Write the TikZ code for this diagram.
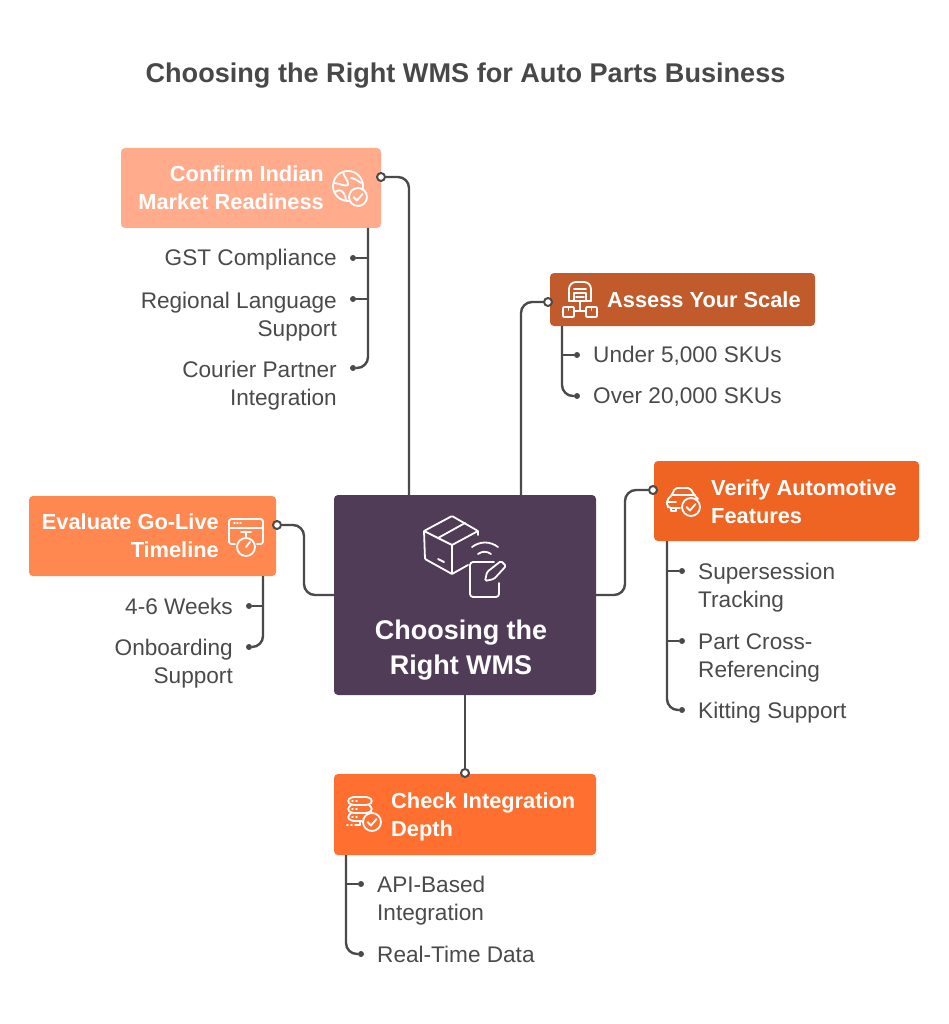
\documentclass[tikz,border=0pt]{standalone}
\usepackage{fontspec}
\setmainfont{Liberation Sans}
\usepackage{tikz}
\definecolor{inkgrey}{HTML}{4A4A4A}
\definecolor{titlegrey}{HTML}{484848}
\definecolor{hubplum}{HTML}{503C56}
\definecolor{confirmpeach}{HTML}{FFAB8C}
\definecolor{assessrust}{HTML}{C15B2B}
\definecolor{verifyorange}{HTML}{F06423}
\definecolor{checkorange}{HTML}{FF6F2F}
\definecolor{evalorange}{HTML}{FF8750}
\newcommand{\badge}[3]{
	\draw [icon,fill=#3] (#1,#2) circle (9);
	\draw [icon] (#1-4.5,#2) -- (#1-1,#2+3.5) -- (#1+4.5,#2-3);
}
\begin{document}
\begin{tikzpicture}[x=1pt,y=-1pt,
	box/.style={rectangle,rounded corners=4pt,inner sep=0pt},
	boxtext/.style={inner sep=0pt,text=white,font=\fontsize{21.8}{28}\selectfont\bfseries},
	itemtext/.style={inner sep=0pt,text=inkgrey,font=\fontsize{22.6}{28}\selectfont},
	link/.style={draw=inkgrey,line width=2.4pt,rounded corners=11pt},
	opendot/.style={circle,draw=inkgrey,fill=white,line width=2pt,minimum size=8pt,inner sep=0pt},
	itemdot/.style={circle,fill=inkgrey,minimum size=6pt,inner sep=0pt},
	icon/.style={draw=white,line width=1.8pt,line join=round,line cap=round}]
	\useasboundingbox (0,0) rectangle (949,1024);
	\node [inner sep=0pt,text=titlegrey,font=\fontsize{27.1}{32}\selectfont\bfseries] (title) at (465.5,76) {Choosing the Right WMS for Auto Parts Business};

	\node [box,fill=hubplum,minimum width=262pt,minimum height=200pt] (hub) at (465,595) {};
	\node [box,fill=confirmpeach,minimum width=260pt,minimum height=80pt] (confirm) at (251,188) {};
	\node [box,fill=assessrust,minimum width=265pt,minimum height=53pt] (assess) at (682.5,299.5) {};
	\node [box,fill=verifyorange,minimum width=265pt,minimum height=80pt] (verify) at (786.5,501) {};
	\node [box,fill=checkorange,minimum width=262pt,minimum height=81pt] (check) at (465,814.5) {};
	\node [box,fill=evalorange,minimum width=247pt,minimum height=80pt] (eval) at (152.5,536) {};

	\node [boxtext,align=center,font=\fontsize{27}{35}\selectfont\bfseries] (hubtext) at (461,650) {Choosing the\\Right WMS};
	\node [boxtext,align=right,anchor=east] (confirmtext) at (324,188) {Confirm Indian\\Market Readiness};
	\node [boxtext,anchor=west] (assesstext) at (607,300) {Assess Your Scale};
	\node [boxtext,align=left,anchor=west] (verifytext) at (711,502) {Verify Automotive\\Features};
	\node [boxtext,align=left,anchor=west] (checktext) at (391,817) {Check Integration\\Depth};
	\node [boxtext,align=right,anchor=east] (evaltext) at (219,536) {Evaluate Go-Live\\Timeline};

	\node [opendot] (confirmdot) at (381,177) {};
	\node [opendot] (assessdot) at (548,302) {};
	\node [opendot] (verifydot) at (653,490) {};
	\node [opendot] (checkdot) at (465,773) {};
	\node [opendot] (evaldot) at (277,525) {};
	\coordinate (confirmfoot) at (409,495);
	\coordinate (assessfoot) at (521,495);
	\coordinate (verifybend) at (625,540);
	\coordinate (evalbend) at (304,560);
	\draw [link] (confirmdot) -| (confirmfoot);
	\draw [link] (assessdot) -| (assessfoot);
	\draw [link] (verifydot) -| (verifybend) |- (hub.east);
	\draw [link] (evaldot) -| (evalbend) |- (hub.west);
	\draw [link] (hub.south) -- (checkdot);

	\node [itemtext,anchor=east] (gst) at (337,260) {GST Compliance};
	\node [itemtext,align=right,anchor=east] (regional) at (337,316.5) {Regional Language\\Support};
	\node [itemtext,align=right,anchor=east] (courier) at (337,385.5) {Courier Partner\\Integration};
	\node [itemdot] (gstdot) at (353,258) {};
	\node [itemdot] (regionaldot) at (353,299) {};
	\node [itemdot] (courierdot) at (353,368) {};
	\coordinate (confirmtrunk) at (368,228);
	\draw [link] (confirmtrunk) |- (courierdot);
	\draw [link] (gstdot) -- (confirmtrunk |- gstdot);
	\draw [link] (regionaldot) -- (confirmtrunk |- regionaldot);

	\node [itemtext,anchor=west] (under) at (593,356) {Under 5,000 SKUs};
	\node [itemtext,anchor=west] (over) at (593,397) {Over 20,000 SKUs};
	\node [itemdot] (underdot) at (577,355) {};
	\node [itemdot] (overdot) at (577,396) {};
	\coordinate (assesstrunk) at (562,326);
	\draw [link] (assesstrunk) |- (overdot);
	\draw [link] (underdot) -- (assesstrunk |- underdot);

	\node [itemtext,align=left,anchor=west] (super) at (698,588) {Supersession\\Tracking};
	\node [itemtext,align=left,anchor=west] (cross) at (698,658) {Part Cross-\\Referencing};
	\node [itemtext,anchor=west] (kitting) at (698,713) {Kitting Support};
	\node [itemdot] (superdot) at (682,571) {};
	\node [itemdot] (crossdot) at (682,641) {};
	\node [itemdot] (kittingdot) at (682,710) {};
	\coordinate (verifytrunk) at (667,541);
	\draw [link] (verifytrunk) |- (kittingdot);
	\draw [link] (superdot) -- (verifytrunk |- superdot);
	\draw [link] (crossdot) -- (verifytrunk |- crossdot);

	\node [itemtext,align=left,anchor=west] (api) at (377,901) {API-Based\\Integration};
	\node [itemtext,anchor=west] (realtime) at (377,954) {Real-Time Data};
	\node [itemdot] (apidot) at (361,884) {};
	\node [itemdot] (realtimedot) at (361,954) {};
	\coordinate (checktrunk) at (346,855);
	\draw [link] (checktrunk) |- (realtimedot);
	\draw [link] (apidot) -- (checktrunk |- apidot);

	\node [itemtext,anchor=east] (weeks) at (233,606) {4-6 Weeks};
	\node [itemtext,align=right,anchor=east] (onboarding) at (233,664) {Onboarding\\Support};
	\node [itemdot] (weeksdot) at (249,606) {};
	\node [itemdot] (onboardingdot) at (249,647) {};
	\coordinate (evaltrunk) at (263,576);
	\draw [link] (evaltrunk) |- (onboardingdot);
	\draw [link] (weeksdot) -- (evaltrunk |- weeksdot);

	\draw [icon] (438,538) -- (465,523);
	\draw [icon,rounded corners=1pt] (452,545) -- (424,531) -- (452,516) -- (478,531) -- cycle;
	\draw [icon,rounded corners=1pt] (424,531) -- (425,559) -- (452,574) -- (468,565);
	\draw [icon] (452,545) -- (452,574) (478,531) -- (478,535) (438,559) -- (444,562);
	\draw [icon] (472,547) .. controls (480,541) and (490,541) .. (498,547);
	\draw [icon] (478,554) .. controls (482,551) and (487,551) .. (491,554);
	\draw [icon,rounded corners=3pt] (494,562) -- (470,562) -- (470,597) -- (499,597) -- (499,583);
	\draw [icon,rounded corners=1.5pt] (485,581) -- (487,572) -- (501,561) -- (506,566) -- (494,579) -- cycle;

	\draw [icon] (348,186) circle (15);
	\draw [icon] (334,183) .. controls (339,183) and (345,187) .. (348,185) .. controls (349,181) and (344,177) .. (343,172);
	\draw [icon] (335,192) .. controls (339,189) and (344,189) .. (346,200);
	\draw [icon] (351,178) .. controls (354,178) and (358,181) .. (361,183);
	\badge{358}{197}{confirmpeach}

	\draw [icon,rounded corners=7pt] (569,301) -- (569,282) -- (591,282) -- (591,301);
	\draw [icon] (569,301) -- (591,301) (574,289) -- (586,289) (574,293) rectangle (586,301) (576,297) -- (584,297);
	\draw [icon,rounded corners=1pt] (563,307) rectangle (574,317) (586,307) rectangle (597,317);
	\draw [icon] (574,311) -- (586,311) (580,301) -- (580,311) (568.5,307) -- (568.5,310) (591.5,307) -- (591.5,310);

	\draw [icon,rounded corners=2pt] (680,508) -- (669,508) -- (667,506) -- (667,500) -- (672,495) -- (675,488) -- (690,488) -- (695,496) -- (698,499);
	\draw [icon] (672,495) -- (695,495) (668,502) -- (676,502) (671,508) -- (671,511) -- (676,511) -- (676,508);
	\badge{691}{507}{verifyorange}

	\draw [icon,rounded corners=3pt] (351,797) -- (369,797) -- (373,801) -- (369,805) -- (351,805) -- (347,801) -- cycle;
	\draw [icon,rounded corners=3pt] (351,805) -- (347,809) -- (351,813) -- (369,813) -- (373,809) -- (369,805);
	\draw [icon,rounded corners=3pt] (351,813) -- (347,817) -- (351,821) -- (362,821);
	\draw [icon,line width=1.4pt] (352,801) -- (353,801) (356,801) -- (357,801) (352,809) -- (353,809) (356,809) -- (357,809) (352,817) -- (353,817) (356,817) -- (357,817);
	\draw [icon,line width=1.4pt] (347,825) -- (348,825) (351,825) -- (352,825) (355,825) -- (360,825) -- (360,821);
	\badge{372}{822}{checkorange}

	\draw [icon,rounded corners=2.5pt] (235,544) -- (229,544) -- (229,519) -- (263,519) -- (263,544) -- (257,544);
	\draw [icon] (229,528) -- (263,528) (246,532) -- (246,538) (241,532) -- (251,532) (246,547) -- (250,542);
	\draw [icon,line width=1.4pt] (234,523) -- (235,523) (237,523) -- (238,523) (240,523) -- (241,523);
	\draw [icon] (246,547) circle (9);
\end{tikzpicture}
\end{document}
